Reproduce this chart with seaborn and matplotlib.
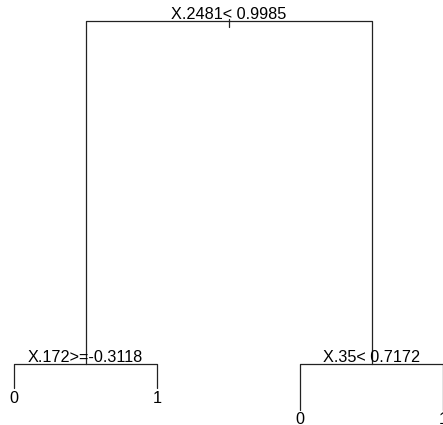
import matplotlib
matplotlib.use("Agg")
import matplotlib.pyplot as plt
import seaborn as sns
import pandas as pd

sns.set_theme(style="white")
plt.rcParams['font.family'] = ['Liberation Sans', 'DejaVu Sans']

# Tree structure (rpart-like classification tree)
node_ids = [1, 2, 3, 4, 5, 6, 7]
parent_ids = [0, 1, 1, 2, 2, 3, 3]
split_labels = ["X.2481< 0.9985", "X.172>=-0.3118", "X.35< 0.7172", "", "", "", ""]
leaf_classes = ["", "", "", "0", "1", "0", "1"]
# node heights (1 - cumulative relative error reduction)
node_heights = [1.0, 0.1228, 0.1228, 0.0614, 0.0614, 0.004, 0.004]

# leaf order -> x positions 1..n, internal nodes at midpoint of children
leaf_ids = [4, 5, 6, 7]
xpos = {nid: i + 1 for i, nid in enumerate(leaf_ids)}
children = {1: [2, 3], 2: [4, 5], 3: [6, 7]}
for nid in [2, 3, 1]:
    xpos[nid] = sum(xpos[c] for c in children[nid]) / 2.0
ypos = dict(zip(node_ids, node_heights))

df = pd.DataFrame({"node": node_ids, "parent": parent_ids,
                   "x": [xpos[n] for n in node_ids], "y": node_heights,
                   "split": split_labels, "leaf": leaf_classes})

fig = plt.figure(figsize=(4.43, 4.25), dpi=100)
ax = fig.add_axes([0, 0, 1, 1])
lc = "#222222"
lw = 0.9

# branches: horizontal at parent height, vertical down to child
for _, r in df.iterrows():
    if r["parent"] == 0:
        continue
    px, py = xpos[r["parent"]], ypos[r["parent"]]
    sns.lineplot(x=[px, r["x"], r["x"]], y=[py, py, r["y"]], ax=ax,
                 color=lc, linewidth=lw, sort=False, estimator=None)

# small stub at root
sns.lineplot(x=[xpos[1], xpos[1]], y=[1.0 - 0.016, 1.0 + 0.004], ax=ax,
             color=lc, linewidth=lw, sort=False, estimator=None)

fs = 11.7
for _, r in df.iterrows():
    if r["split"]:
        ax.annotate(r["split"], (r["x"], r["y"]), xytext=(0, -0.5),
                    textcoords="offset points", ha="center", va="bottom",
                    fontsize=fs, color="black")
    if r["leaf"]:
        off = -2.5 if r["y"] > 0.03 else -1.0
        ax.annotate(r["leaf"], (r["x"], r["y"]), xytext=(0, off),
                    textcoords="offset points", ha="center", va="top",
                    fontsize=fs, color="black")

ax.set_xlim(0.902, 4.0)
ax.set_ylim(-0.0332, 1.0537)
ax.axis("off")
fig.savefig("out.png", dpi=100, facecolor="white")
